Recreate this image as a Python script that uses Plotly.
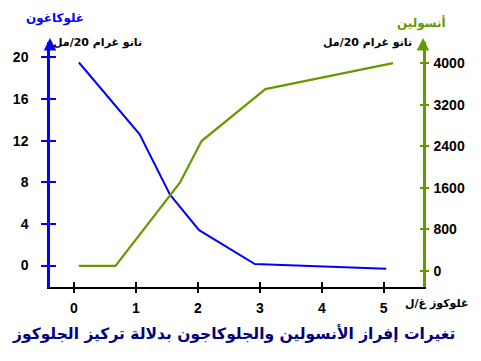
import plotly.graph_objects as go

glucose_ticks = [0, 1, 2, 3, 4, 5]
glucagon_ticks = [0, 4, 8, 12, 16, 20]
insulin_ticks = [0, 800, 1600, 2400, 3200, 4000]

glucagon_x = [0.08, 1.06, 1.55, 2.02, 2.92, 5.04]
glucagon_y = [19.5, 12.6, 6.8, 3.4, 0.15, -0.3]
insulin_x = [0.08, 0.67, 1.71, 2.06, 3.09, 5.15]
insulin_y = [100, 100, 1700, 2500, 3500, 4000]

BLUE = "#0000FF"
GREEN = "#669900"
NAVY = "#000080"
FONT = "Liberation Sans"
AR = "DejaVu Sans"

W, H = 481, 361
L, R, T, B = 50, 58, 42, 74
PW, PH = W - L - R, H - T - B

fig = go.Figure()
fig.add_trace(go.Scatter(x=glucagon_x, y=glucagon_y, mode="lines",
                         line=dict(color=BLUE, width=2), xaxis="x", yaxis="y",
                         showlegend=False, hoverinfo="skip"))
fig.add_trace(go.Scatter(x=insulin_x, y=insulin_y, mode="lines",
                         line=dict(color=GREEN, width=2.2), xaxis="x", yaxis="y2",
                         showlegend=False, hoverinfo="skip"))
fig.add_trace(go.Scatter(x=[None], y=[None], xaxis="x2", yaxis="y3",
                         showlegend=False, hoverinfo="skip"))
fig.add_trace(go.Scatter(x=[None], y=[None], xaxis="x2", yaxis="y4",
                         showlegend=False, hoverinfo="skip"))

xr = [-0.387, 5.634]
yr = [-2.06, 21.47]
y2r = [-308, 4406]
tickfont = dict(family=FONT, size=14, color="black", weight="bold")

fig.update_layout(
    width=W, height=H,
    margin=dict(l=L, r=R, t=T, b=B, autoexpand=False),
    paper_bgcolor="white", plot_bgcolor="white",
    xaxis=dict(range=xr, tickvals=glucose_ticks, ticks="outside", ticklen=4,
               tickwidth=2, tickcolor="black", showline=True, linecolor="black",
               linewidth=2, showgrid=False, zeroline=False, tickfont=tickfont,
               ticklabelstandoff=3, automargin=False),
    xaxis2=dict(range=xr, tickvals=glucose_ticks, ticks="inside", ticklen=5,
                tickwidth=2, tickcolor="black", showticklabels=False,
                showline=False, showgrid=False, zeroline=False,
                overlaying="x", anchor="y", automargin=False),
    yaxis=dict(range=yr, tickvals=glucagon_ticks, ticks="outside", ticklen=6,
               tickwidth=2, tickcolor=BLUE, showline=True, linecolor=BLUE,
               linewidth=2.5, showgrid=False, zeroline=False, tickfont=tickfont,
               ticklabelstandoff=10, automargin=False),
    yaxis3=dict(range=yr, tickvals=glucagon_ticks, ticks="inside", ticklen=6,
                tickwidth=2, tickcolor=BLUE, showticklabels=False,
                showline=False, showgrid=False, zeroline=False,
                overlaying="y", side="left", anchor="x", automargin=False),
    yaxis2=dict(range=y2r, tickvals=insulin_ticks, ticks="outside", ticklen=3,
                tickwidth=2, tickcolor=GREEN, showline=True, linecolor=GREEN,
                linewidth=2.5, showgrid=False, zeroline=False, tickfont=tickfont,
                overlaying="y", side="right", anchor="x", ticklabelstandoff=2,
                automargin=False),
    yaxis4=dict(range=y2r, tickvals=insulin_ticks, ticks="inside", ticklen=3,
                tickwidth=2, tickcolor=GREEN, showticklabels=False,
                showline=False, showgrid=False, zeroline=False,
                overlaying="y", side="right", anchor="x", automargin=False),
)

# axis arrows
for xp, col in [(0, BLUE), (1, GREEN)]:
    fig.add_annotation(x=xp, y=(H - B - 38) / PH, xref="paper", yref="paper",
                       text="", showarrow=True, arrowhead=2, arrowsize=1,
                       arrowwidth=2.5, arrowcolor=col, ax=0, ay=12,
                       axref="pixel", ayref="pixel")

texts = [
    ("غلوكاغون", 55, 19, BLUE, 12),
    ("نانو غرام 20/مل", 97, 42, "black", 11),
    ("أنسولين", 421, 23, GREEN, 12),
    ("نانو غرام 20/مل", 367, 42, "black", 11),
    ("غلوكوز غ/ل", 436, 303, "black", 11),
    ("تغيرات إفراز الأنسولين والجلوكاجون بدلالة تركيز الجلوكوز", 233, 333, NAVY, 15.5),
]
for t, px, py, col, sz in texts:
    fig.add_annotation(x=(px - L) / PW, y=(H - B - py) / PH, xref="paper",
                       yref="paper", text="<b>" + t + "</b>", showarrow=False,
                       font=dict(family=AR, size=sz, color=col),
                       xanchor="center", yanchor="middle")

fig.write_html("out.html", config={"displayModeBar": False},
               post_script="document.body.style.margin='0';document.body.style.overflow='hidden';")
